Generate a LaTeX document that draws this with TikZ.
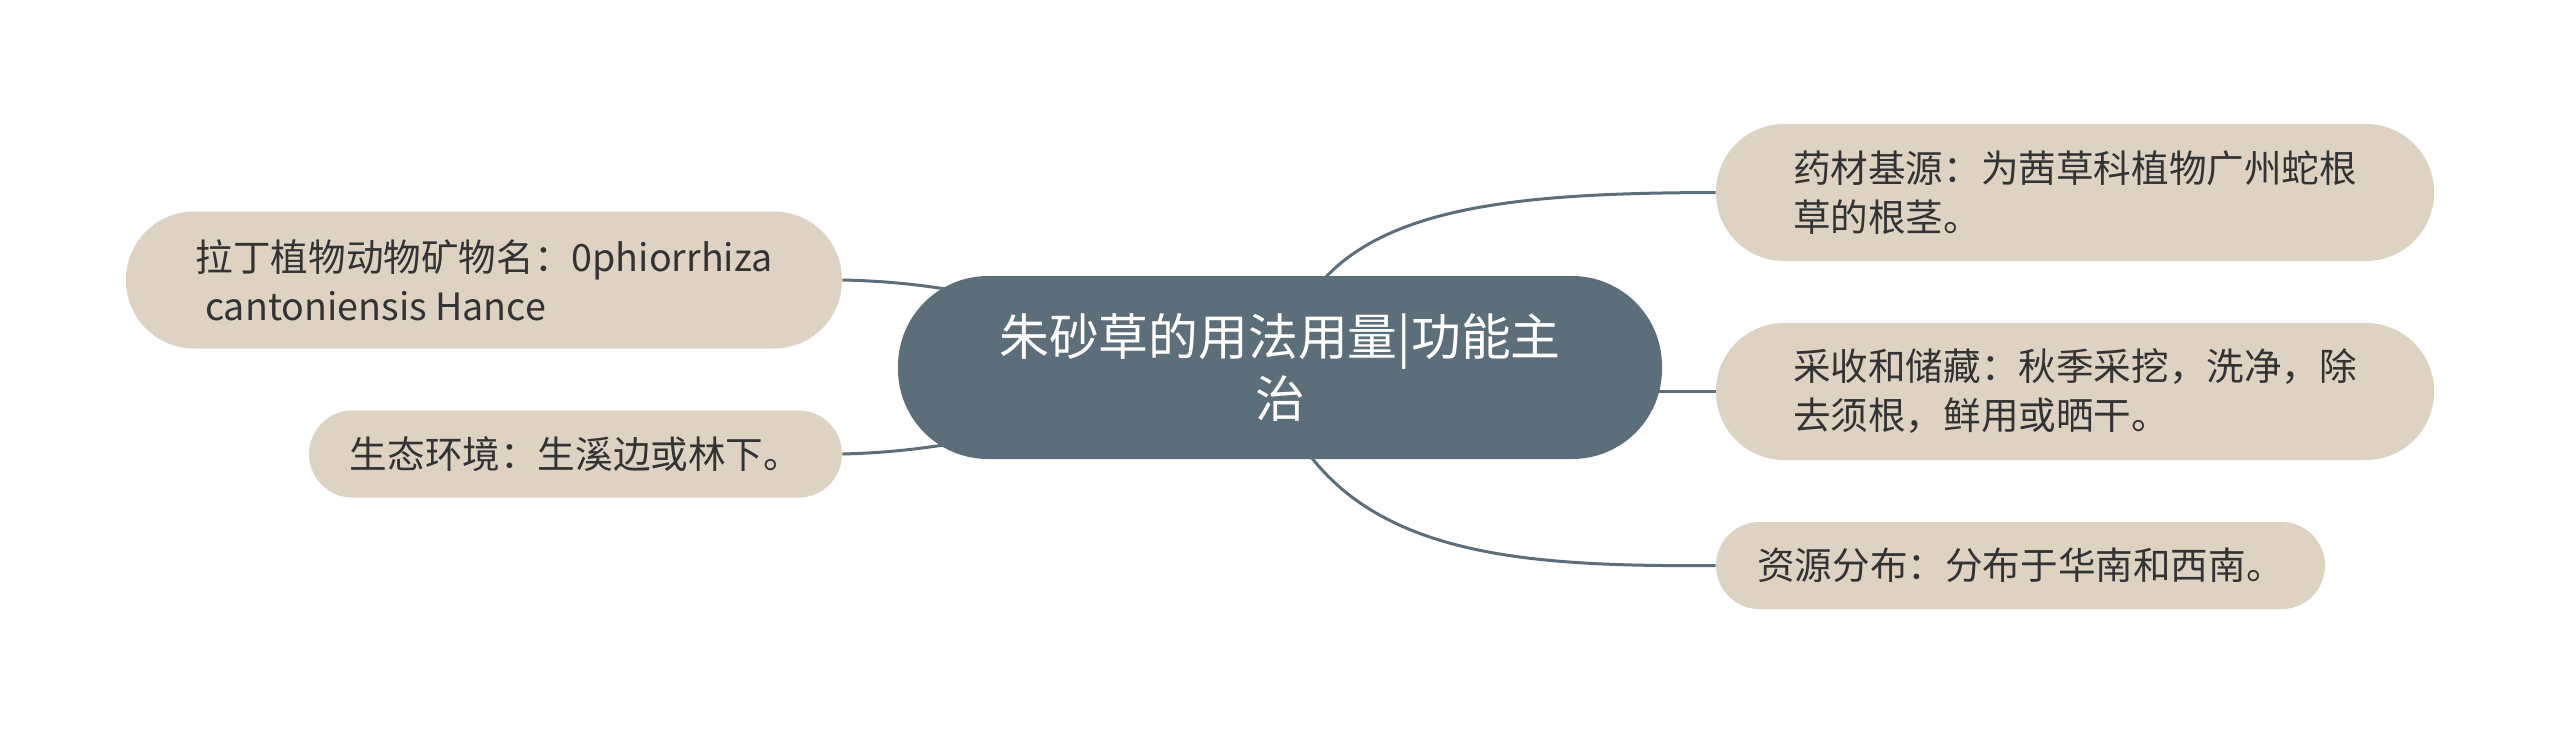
\documentclass[tikz,border=0pt]{standalone}
\usepackage{fontspec}
\newfontfamily\cjk{Noto Sans CJK SC}
\usetikzlibrary{backgrounds,calc}
\definecolor{slate}{HTML}{5B6E7A}
\definecolor{beige}{HTML}{DED3C3}
\definecolor{ink}{HTML}{333333}
\begin{document}
\begin{tikzpicture}[x=0.5pt,y=-0.5pt,
  centralbox/.style={draw=none,fill=slate,text=white,rounded corners=45pt,
    minimum width=382pt,minimum height=91.5pt,align=center,inner sep=0pt,
    font=\cjk\fontsize{24.9pt}{31pt}\selectfont},
  leafbox/.style={draw=none,fill=beige,text=ink,align=left,inner sep=0pt,
    font=\cjk\fontsize{18.8pt}{24.5pt}\selectfont},
  tallleaf/.style={leafbox,rounded corners=34pt,minimum height=68.5pt},
  shortleaf/.style={leafbox,rounded corners=21.8pt,minimum height=43.6pt},
  link/.style={draw=slate,line width=1.5pt}]
\useasboundingbox (0,0) rectangle (2560,735);
\node[centralbox] (central) at (1280,367.5) {朱砂草的用法用量|功能主\\治};
\node[tallleaf,minimum width=358pt] (latin) at (484,280) {拉丁植物动物矿物名：0phiorrhiza\\\hspace{0.25em}cantoniensis Hance};
\node[shortleaf,minimum width=266.5pt] (habitat) at (575.5,454) {生态环境：生溪边或林下。};
\node[tallleaf,minimum width=359pt] (source) at (2075,192.5) {药材基源：为茜草科植物广州蛇根\\草的根茎。};
\node[tallleaf,minimum width=359pt] (harvest) at (2075,391.5) {采收和储藏：秋季采挖，洗净，除\\去须根，鲜用或晒干。};
\node[shortleaf,minimum width=304.5pt] (distrib) at (2020.5,565.5) {资源分布：分布于华南和西南。};
\coordinate (topstart) at ($(central.north)+(14pt,-12pt)$);
\coordinate (botstart) at ($(central.south)+(8pt,12pt)$);
\begin{scope}[on background layer]
\draw[link] (latin.east) .. controls (1050,284) and (1150,367) .. (central.center);
\draw[link] (habitat.east) .. controls (1050,449) and (1150,367) .. (central.center);
\draw[link] (topstart) .. controls (1370,205) and (1520,193) .. (source.west);
\draw[link] (harvest.west) -- (harvest.west -| central.center);
\draw[link] (botstart) .. controls (1370,555) and (1520,567) .. (distrib.west);
\end{scope}
\end{tikzpicture}
\end{document}
